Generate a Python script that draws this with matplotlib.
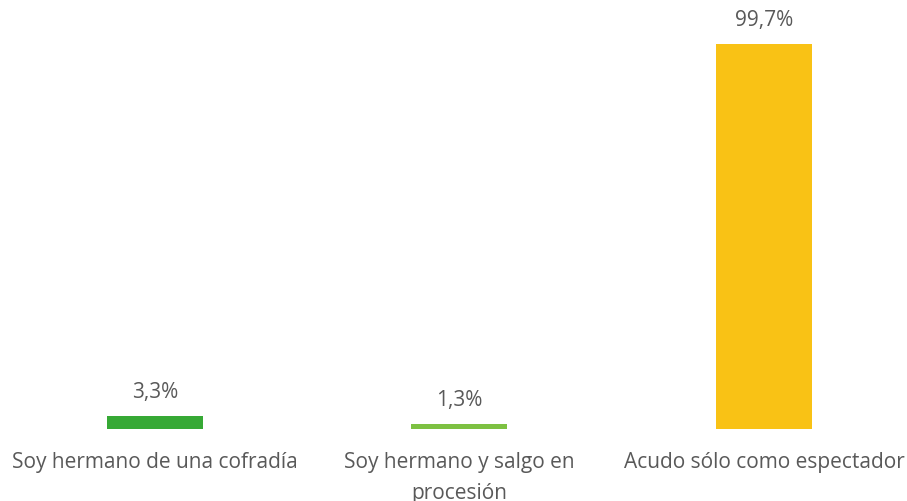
import matplotlib.pyplot as plt
import numpy as np

plt.rcParams['font.family'] = ['Open Sans', 'DejaVu Sans']

categories = ['Soy hermano de una cofradía', 'Soy hermano y salgo en\nprocesión', 'Acudo sólo como espectador']
values = [3.3, 1.3, 99.7]
labels = ['3,3%', '1,3%', '99,7%']
colors = ['#36a935', '#7dc142', '#f9c215']

fig = plt.figure(figsize=(9.07, 5.02), dpi=100)
ax = fig.add_axes([0, 72 / 502, 1, 430 / 502])

x = np.arange(len(categories))
bars = ax.bar(x, values, 0.315, color=colors)

ax.set_xlim(-0.509, 2.47)
ax.set_ylim(0, 111.3)

for rect, lab in zip(bars, labels):
    ax.annotate(lab, xy=(rect.get_x() + rect.get_width() / 2, rect.get_height()),
                xytext=(0, 10), textcoords='offset points',
                ha='center', va='bottom', fontsize=15, color='#595959')

ax.set_xticks(x)
ax.set_xticklabels(categories, fontsize=15, color='#595959', linespacing=1.6)
ax.tick_params(axis='x', length=0, pad=16)
ax.set_yticks([])
for s in ax.spines.values():
    s.set_visible(False)

plt.savefig('out.png', dpi=100)
